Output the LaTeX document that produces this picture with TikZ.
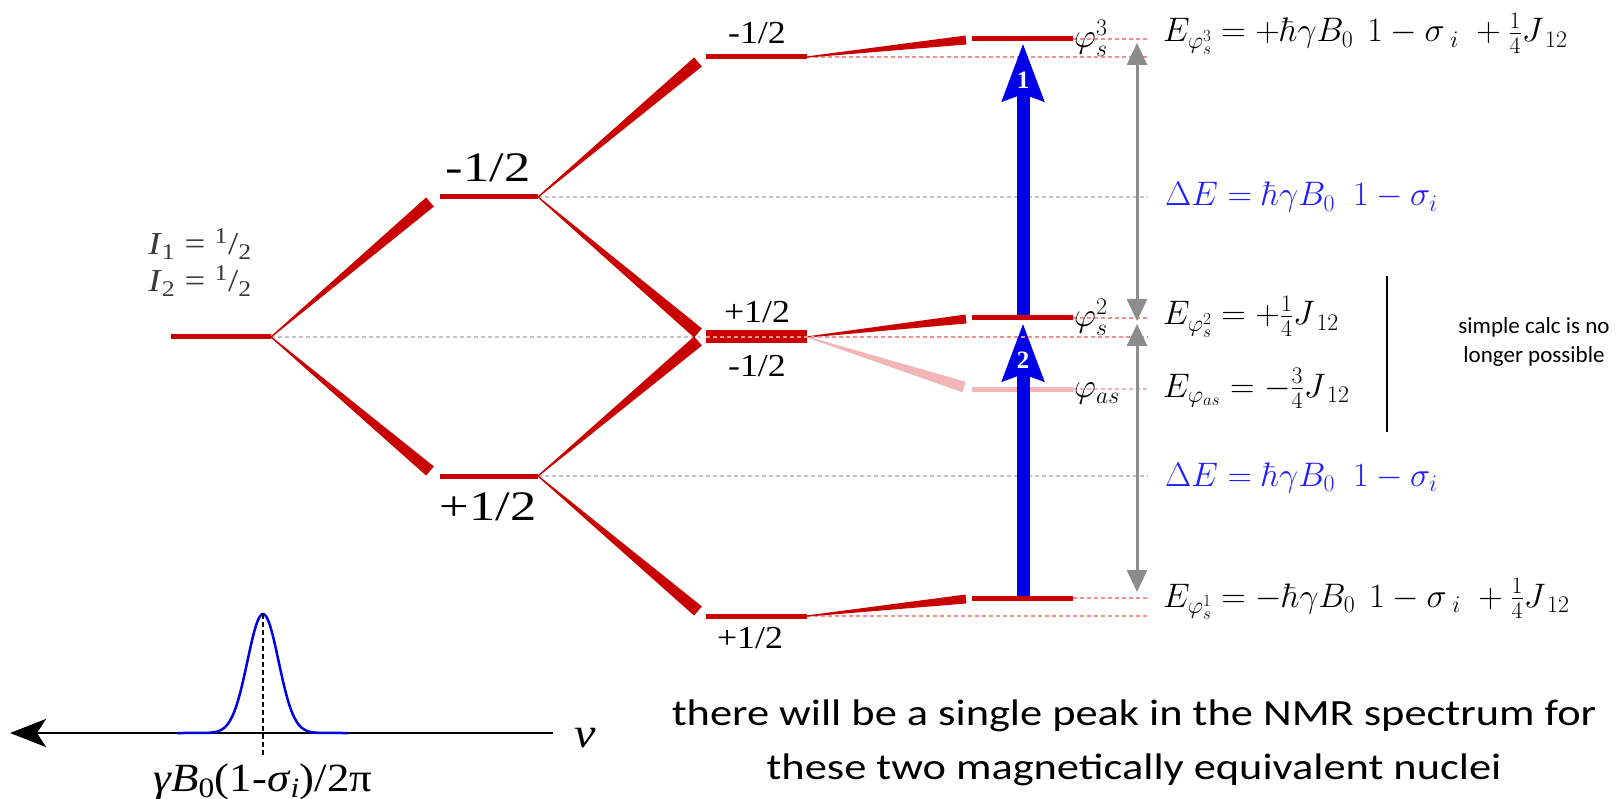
\documentclass[tikz,border=0pt]{standalone}
\usepackage{fix-cm}
\usepackage[no-math]{fontspec}
\setmainfont{Liberation Serif}
\newfontfamily\calib{Carlito}
\usetikzlibrary{arrows.meta,calc}
\definecolor{lvred}{HTML}{C80000}
\definecolor{pale}{HTML}{F2B6B6}
\definecolor{dred}{HTML}{F09090}
\definecolor{dgray}{HTML}{C4C4C4}
\definecolor{agray}{HTML}{8C8C8C}
\definecolor{ablue}{HTML}{0000E6}
\definecolor{tblue}{HTML}{1E1EFF}
\definecolor{igray}{HTML}{3A3A3A}
\newcommand\wdg[4]{\fill[#1] ($(#2)!0.6pt!90:(#3)$) -- ($(#2)!0.6pt!-90:(#3)$) -- ($(#3)!#4!90:(#2)$) -- ($(#3)!#4!-90:(#2)$) -- cycle;}
\tikzset{
 lvl/.style={draw=lvred, line width=5pt},
 palelvl/.style={draw=pale, line width=5pt},
 gdash/.style={draw=dgray, line width=1.6pt, dash pattern=on 4pt off 3pt},
 rdash/.style={draw=dred, line width=1.6pt, dash pattern=on 4pt off 3pt},
 pdash/.style={draw=pale, line width=1.6pt, dash pattern=on 4pt off 3pt},
 garr/.style={draw=agray, line width=3pt, {Triangle[length=22pt,width=20pt]}-{Triangle[length=22pt,width=20pt]}},
 barr/.style={draw=ablue, line width=13pt, -{Stealth[length=57pt,width=40pt,inset=6pt]}},
 spin/.style={inner sep=0pt, xscale=1.12, font=\fontsize{32}{34}\selectfont},
 bigspin/.style={inner sep=0pt, xscale=1.25, font=\fontsize{42}{46}\selectfont},
 ilab/.style={inner sep=0pt, xscale=1.15, text=igray, font=\fontsize{32}{34}\selectfont},
 eq/.style={inner sep=0pt, anchor=base west, font=\fontsize{34}{36}\selectfont},
 phil/.style={inner sep=0pt, anchor=base west, font=\fontsize{34}{38}\selectfont},
 note/.style={inner sep=0pt, align=center, font=\calib\fontsize{23}{29}\selectfont},
 bottom/.style={inner sep=0pt, anchor=base, xscale=1.2, font=\calib\fontsize{37}{40}\selectfont},
 tipnum/.style={inner sep=0pt, text=white, font=\bfseries\fontsize{25}{28}\selectfont},
}
\begin{document}
\begin{tikzpicture}[x=1pt,y=-1pt]
\useasboundingbox (0,0) rectangle (1622,799);
% level end points
\coordinate (L0a) at (171,337); \coordinate (L0b) at (271,337);
\coordinate (U1a) at (440,197); \coordinate (U1b) at (538,197);
\coordinate (D1a) at (440,476); \coordinate (D1b) at (538,476);
\coordinate (T2a) at (706,57);  \coordinate (T2b) at (807,57);
\coordinate (M2a) at (706,337); \coordinate (M2b) at (807,337);
\coordinate (B2a) at (706,616); \coordinate (B2b) at (807,616);
\coordinate (R3a) at (972,39);  \coordinate (R3b) at (1073,39);
\coordinate (R2a) at (972,318); \coordinate (R2b) at (1073,318);
\coordinate (Rsa) at (972,389); \coordinate (Rsb) at (1073,389);
\coordinate (R1a) at (972,598); \coordinate (R1b) at (1073,598);
% wedge thick ends
\coordinate (wU1) at (430,202); \coordinate (wD1) at (430,471);
\coordinate (wT2) at (698,62);  \coordinate (wM2u) at (698,333);
\coordinate (wM2d) at (698,341); \coordinate (wB2) at (698,611);
\coordinate (wR3) at (966,40);  \coordinate (wR2) at (966,319);
\coordinate (wRs) at (964,387); \coordinate (wR1) at (966,599);
% dashed end points
\coordinate (eG0) at (700,337);
\coordinate (eU) at (1148,197); \coordinate (eD) at (1148,476);
\coordinate (e57) at (1148,57); \coordinate (e39) at (1148,39);
\coordinate (e337) at (1148,337); \coordinate (e318) at (1148,318);
\coordinate (e389) at (1148,389);
\coordinate (e616) at (1148,616); \coordinate (e598) at (1148,598);
% dashed guide lines
\draw[gdash] (L0b) -- (eG0);
\draw[gdash] (U1b) -- (eU);
\draw[gdash] (D1b) -- (eD);
\draw[rdash] (T2b) -- (e57);
\draw[rdash] (R3b) -- (e39);
\draw[rdash] (R2b) -- (e318);
\draw[pdash] (Rsb) -- (e389);
\draw[rdash] (B2b) -- (e616);
\draw[rdash] (R1b) -- (e598);
% wedges
\wdg{lvred}{L0b}{wU1}{6pt}
\wdg{lvred}{L0b}{wD1}{6pt}
\wdg{lvred}{U1b}{wT2}{6pt}
\wdg{lvred}{U1b}{wM2u}{6pt}
\wdg{lvred}{D1b}{wM2d}{6pt}
\wdg{lvred}{D1b}{wB2}{6pt}
\wdg{lvred}{T2b}{wR3}{4.5pt}
\wdg{lvred}{M2b}{wR2}{4.5pt}
\wdg{pale}{M2b}{wRs}{5.5pt}
\wdg{lvred}{B2b}{wR1}{4.5pt}
% pale level
\draw[palelvl] (Rsa) -- (Rsb);
% blue transitions
\coordinate (b1s) at (1023,318); \coordinate (b1t) at (1023,43);
\coordinate (b2s) at (1023,598); \coordinate (b2t) at (1023,323);
\draw[barr] (b1s) -- (b1t);
\draw[barr] (b2s) -- (b2t);
\node[tipnum] (n1) at (1023,80) {1};
\node[tipnum] (n2) at (1023,360) {2};
% levels
\draw[lvl] (L0a) -- (L0b);
\draw[lvl] (U1a) -- (U1b);
\draw[lvl] (D1a) -- (D1b);
\draw[lvl] (T2a) -- (T2b);
\draw[lvl] (B2a) -- (B2b);
\draw[draw=lvred, line width=13pt] (M2a) -- (M2b);
\draw[rdash] (M2a) -- (e337);
\draw[lvl] (R3a) -- (R3b);
\draw[lvl] (R2a) -- (R2b);
\draw[lvl] (R1a) -- (R1b);
% gray energy arrows
\coordinate (g1t) at (1137,43); \coordinate (g1b) at (1137,321);
\coordinate (g2t) at (1137,324); \coordinate (g2b) at (1137,592);
\draw[garr] (g1t) -- (g1b);
\draw[garr] (g2t) -- (g2b);
% spin labels
\node[ilab] (i1) at (200,244) {\textit{I}\textsubscript{1} = \textsuperscript{1}/\textsubscript{2}};
\node[ilab] (i2) at (200,281) {\textit{I}\textsubscript{2} = \textsuperscript{1}/\textsubscript{2}};
\node[bigspin] (tU1) at (488,168) {-1/2};
\node[bigspin] (tD1) at (488,507) {+1/2};
\node[spin] (tT2) at (757,33) {-1/2};
\node[spin] (tM2u) at (757,312) {+1/2};
\node[spin] (tM2d) at (757,366) {-1/2};
\node[spin] (tB2) at (750,638) {+1/2};
% state labels
\node[phil] (p3) at (1074,48) {$\varphi_s^3$};
\node[phil] (p2) at (1074,327) {$\varphi_s^2$};
\node[phil] (pas) at (1074,398) {$\varphi_{as}$};
% energies
\node[eq] (E3) at (1163,42) {$E_{\varphi_s^3} = +\hbar\gamma B_0\hspace{14pt}1-\sigma_{\kern7pt i}\hspace{10pt}+\frac{1}{4}J_{\kern5pt 12}$};
\node[eq, text=tblue] (dE1) at (1165,206) {$\Delta E = \hbar\gamma B_0\hspace{18pt}1-\sigma_i$};
\node[eq] (E2) at (1163,325) {$E_{\varphi_s^2} = +\frac{1}{4}J_{\kern5pt 12}$};
\node[eq] (Eas) at (1163,397) {$E_{\varphi_{as}} = -\frac{3}{4}J_{\kern5pt 12}$};
\node[eq, text=tblue] (dE2) at (1165,486) {$\Delta E = \hbar\gamma B_0\hspace{18pt}1-\sigma_i$};
\node[eq] (E1) at (1163,607) {$E_{\varphi_s^1} = -\hbar\gamma B_0\hspace{14pt}1-\sigma_{\kern7pt i}\hspace{10pt}+\frac{1}{4}J_{\kern5pt 12}$};
% bracket and note
\coordinate (brT) at (1387,276); \coordinate (brB) at (1387,432);
\draw[line width=2pt] (brT) -- (brB);
\node[note] (nt) at (1534,342) {simple calc is no\\longer possible};
% spectrum
\coordinate (axR) at (553,733); \coordinate (axL) at (10,733);
\draw[line width=2.5pt, -{Stealth[length=36pt,width=28pt,inset=9pt]}] (axR) -- (axL);
\coordinate (pkL) at (177,733); \coordinate (pkR) at (348,733);
\draw[ablue, line width=2.5pt] (pkL) -- plot[domain=-65:65, samples=101, smooth] ({263+\x},{733-119*exp(-0.5*(\x/15.5)^2)}) -- (pkR);
\coordinate (pkT) at (263,614); \coordinate (pkB) at (263,756);
\draw[line width=1.2pt, dash pattern=on 5pt off 3pt] (pkT) -- (pkB);
\node[inner sep=0pt, xscale=1.15, font=\fontsize{42}{44}\selectfont] (nu) at (585,738) {\textit{ν}};
\node[inner sep=0pt, anchor=base, xscale=1.12, font=\fontsize{40}{42}\selectfont] (freq) at (263,791) {\textit{γB}\textsubscript{0}(1-\textit{σ}\textsubscript{\textit{i}})/2π};
% bottom text
\node[bottom] (c1) at (1134,725) {there will be a single peak in the NMR spectrum for};
\node[bottom] (c2) at (1134,779) {these two magnetically equivalent nuclei};
\end{tikzpicture}
\end{document}
